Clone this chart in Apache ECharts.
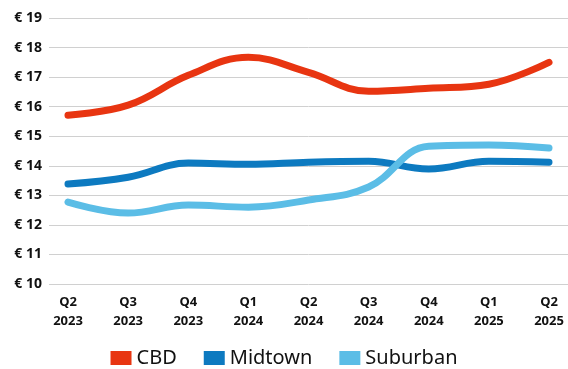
<!DOCTYPE html>
<html>
<head>
<meta charset="utf-8">
<script src="https://cdn.jsdelivr.net/npm/echarts@6/dist/echarts.min.js"></script>
<style>
  html, body { margin: 0; padding: 0; background: #fff; }
  #chart { width: 568px; height: 369px; }
</style>
</head>
<body>
<div id="chart"></div>
<script>
// quarters along the x axis
var quarters = ['Q2\n2023', 'Q3\n2023', 'Q4\n2023', 'Q1\n2024', 'Q2\n2024', 'Q3\n2024', 'Q4\n2024', 'Q1\n2025', 'Q2\n2025'];

// rent per sq ft, euro
var cbd      = [15.71, 16.05, 17.06, 17.67, 17.16, 16.52, 16.62, 16.76, 17.50];
var midtown  = [13.38, 13.61, 14.09, 14.05, 14.12, 14.15, 13.89, 14.15, 14.12];
var suburban = [12.77, 12.40, 12.67, 12.60, 12.84, 13.28, 14.66, 14.70, 14.60];

var yMin = 10, yMax = 19;
var font = '"Noto Sans", sans-serif';

function line(name, data, color) {
    return {
        name: name,
        type: 'line',
        data: data,
        smooth: 0.4,
        symbol: 'none',
        xAxisIndex: 0,
        yAxisIndex: 0,
        lineStyle: { width: 7, color: color, cap: 'round' },
        itemStyle: { color: color }
    };
}

var option = {
    animation: false,
    grid: [
        // data grid: first/last quarter sit on the edges
        { left: 68, right: 19, top: 18, bottom: 85 },
        // gridlines + y labels, a bit wider than the data
        { left: 49, right: 0, top: 18, bottom: 85 }
    ],
    legend: {
        top: 343,
        left: 'center',
        itemWidth: 21,
        itemHeight: 14,
        itemGap: 27,
        icon: 'rect',
        textStyle: { fontFamily: font, fontSize: 20, color: '#111' },
        data: ['CBD', 'Midtown', 'Suburban']
    },
    xAxis: [
        {
            type: 'category',
            gridIndex: 0,
            data: quarters,
            boundaryGap: false,
            axisLine: { show: false },
            axisTick: { show: false },
            axisLabel: {
                fontFamily: font, fontSize: 13, fontWeight: 'bold', color: '#111',
                lineHeight: 19, margin: 9, interval: 0
            }
        },
        { type: 'value', gridIndex: 1, show: false }
    ],
    yAxis: [
        {
            type: 'value', gridIndex: 0, min: yMin, max: yMax, interval: 1,
            axisLine: { show: false }, axisTick: { show: false },
            axisLabel: { show: false }, splitLine: { show: false }
        },
        {
            type: 'value', gridIndex: 1, min: yMin, max: yMax, interval: 1,
            axisLine: { show: false }, axisTick: { show: false },
            axisLabel: {
                fontFamily: font, fontSize: 14, fontWeight: 'bold', color: '#111',
                margin: 7,
                formatter: function (v) { return '€ ' + v; }
            },
            splitLine: { lineStyle: { color: '#d0d0d0', width: 1 } }
        }
    ],
    series: [
        line('CBD', cbd, '#E83511'),
        line('Midtown', midtown, '#0D7AC0'),
        line('Suburban', suburban, '#5BBDE6')
    ]
};

var chart = echarts.init(document.getElementById('chart'));
chart.setOption(option);
</script>
</body>
</html>
